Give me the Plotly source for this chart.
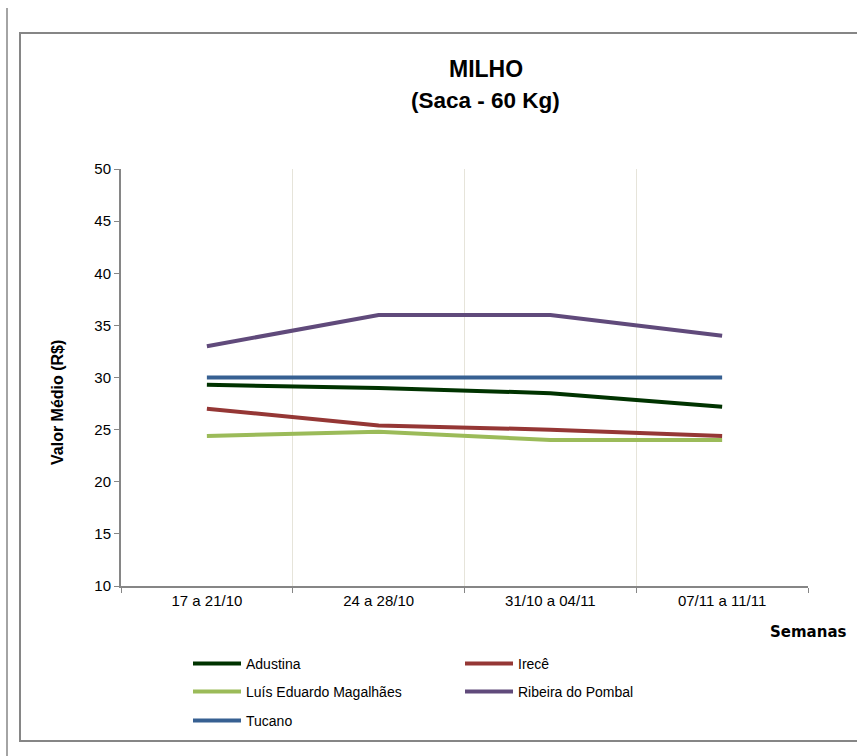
import plotly.graph_objects as go

semanas = ["17 a 21/10", "24 a 28/10", "31/10 a 04/11", "07/11 a 11/11"]
adustina = [29.3, 29.0, 28.5, 27.2]
irece = [27.0, 25.4, 25.0, 24.4]
lem = [24.4, 24.8, 24.0, 24.0]
ribeira = [33.0, 36.0, 36.0, 34.0]
tucano = [30.0, 30.0, 30.0, 30.0]
y_ticks = [10, 15, 20, 25, 30, 35, 40, 45, 50]

series = [
    ("Adustina", adustina, "#003300", "legend"),
    ("Irecê", irece, "#953735", "legend"),
    ("Luís Eduardo Magalhães", lem, "#9BBB59", "legend2"),
    ("Ribeira do Pombal", ribeira, "#604A7B", "legend2"),
    ("Tucano", tucano, "#376092", "legend3"),
]

W, H = 857, 756
L, R, T, B = 121, 808, 169, 586
pw, ph = R - L, B - T


def px(x):
    return (x - L) / pw


def py(y):
    return (B - y) / ph


x_idx = list(range(len(semanas)))
fig = go.Figure()
for name, vals, color, lg in series:
    fig.add_trace(go.Scatter(
        x=x_idx, y=vals, name=name, mode="lines",
        line=dict(color=color, width=4), legend=lg,
    ))

FONT = "Arial, Liberation Sans, sans-serif"
legend_common = dict(
    orientation="h", xanchor="left", yanchor="middle",
    entrywidth=209, entrywidthmode="pixels", itemwidth=48,
    font=dict(family=FONT, size=14, color="#000000"),
    bgcolor="rgba(0,0,0,0)", traceorder="normal",
)

LX = 188
fig.update_layout(
    width=W, height=H,
    margin=dict(l=L, r=W - R, t=T, b=H - B),
    paper_bgcolor="white", plot_bgcolor="white",
    font=dict(family=FONT, size=14, color="#000000"),
    showlegend=True,
    legend=dict(x=px(LX), y=py(664), **legend_common),
    legend2=dict(x=px(LX), y=py(692), **legend_common),
    legend3=dict(x=px(LX), y=py(721), **legend_common),
    xaxis=dict(
        range=[-0.5, len(semanas) - 0.5],
        tickmode="array", tickvals=x_idx, ticktext=semanas,
        ticks="", showgrid=False, zeroline=False,
        showline=True, linecolor="#868686", linewidth=2,
        tickfont=dict(size=15, family=FONT, color="#000000"),
        minor=dict(
            tickmode="array",
            tickvals=[i - 0.5 for i in range(len(semanas) + 1)],
            ticks="outside", ticklen=5, tickcolor="#868686", tickwidth=1,
            showgrid=True, gridcolor="#E6E4DA", gridwidth=1,
        ),
        fixedrange=True,
    ),
    yaxis=dict(
        range=[10, 50], tickmode="array", tickvals=y_ticks,
        ticks="outside", ticklen=5, tickcolor="#868686",
        showgrid=False, zeroline=False,
        showline=True, linecolor="#868686", linewidth=2,
        tickfont=dict(size=15, family=FONT, color="#000000"),
        fixedrange=True,
    ),
)

# Outer frames
fig.add_shape(type="rect", xref="paper", yref="paper",
              x0=px(20), x1=px(858), y0=py(741), y1=py(33),
              line=dict(color="#868686", width=2), fillcolor="rgba(0,0,0,0)", layer="below")
fig.add_shape(type="line", xref="paper", yref="paper",
              x0=px(7), x1=px(7), y0=py(757), y1=py(8),
              line=dict(color="#868686", width=1.5))

# Titles
fig.add_annotation(text="<b>MILHO</b>", xref="paper", yref="paper",
                   x=px(486), y=py(69), showarrow=False, xanchor="center", yanchor="middle",
                   font=dict(family=FONT, size=23, color="#000000"))
fig.add_annotation(text="<b>(Saca - 60 Kg)</b>", xref="paper", yref="paper",
                   x=px(485), y=py(101), showarrow=False, xanchor="center", yanchor="middle",
                   font=dict(family=FONT, size=22.5, color="#000000"))
fig.add_annotation(text="<b>Valor Médio (R$)</b>", xref="paper", yref="paper",
                   x=px(57), y=py(403), showarrow=False, textangle=-90,
                   xanchor="center", yanchor="middle",
                   font=dict(family=FONT, size=16, color="#000000"))
fig.add_annotation(text="<b>Semanas</b>", xref="paper", yref="paper",
                   x=px(808), y=py(632), showarrow=False,
                   xanchor="center", yanchor="middle",
                   font=dict(family="DejaVu Sans, Verdana, sans-serif", size=15, color="#000000"))

fig.write_html("out.html", config={"displayModeBar": False},
               post_script="document.body.style.margin='0';")
